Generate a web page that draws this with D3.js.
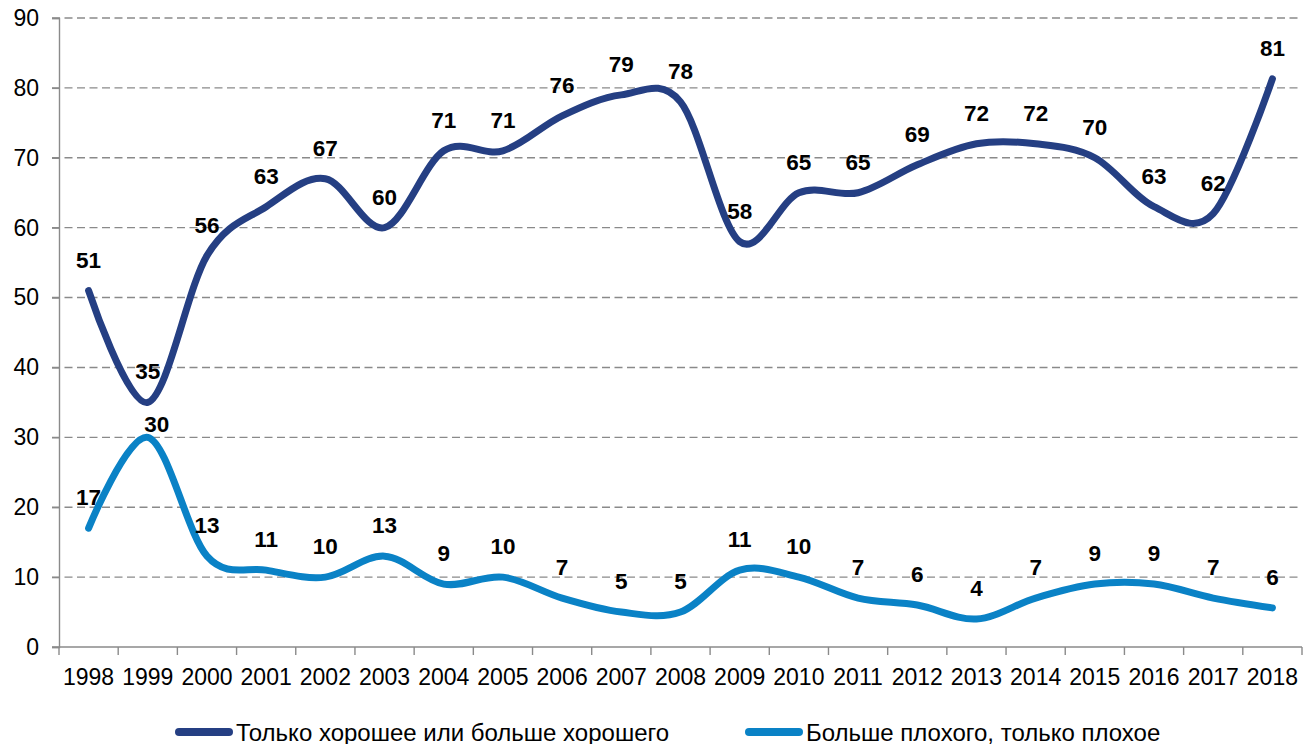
<!DOCTYPE html>
<html>
<head>
<meta charset="utf-8">
<script src="https://cdn.jsdelivr.net/npm/d3@7"></script>
<style>
  body { margin: 0; background: #fff; }
  text { font-family: "Liberation Sans", Arial, sans-serif; }
</style>
</head>
<body>
<div class="line-chart"></div>
<script>
var years = ["1998","1999","2000","2001","2002","2003","2004","2005","2006","2007","2008",
             "2009","2010","2011","2012","2013","2014","2015","2016","2017","2018"];
var goodValues = [51, 35, 56, 63, 67, 60, 71, 71, 76, 79, 78, 58, 65, 65, 69, 72, 72, 70, 63, 62, 81.3];
var badValues = [17, 30, 13, 11, 10, 13, 9, 10, 7, 5, 5, 11, 10, 7, 6, 4, 7, 9, 9, 7, 5.6];
var seriesNames = ["Только хорошее или больше хорошего", "Больше плохого, только плохое"];
var yTicks = [0, 10, 20, 30, 40, 50, 60, 70, 80, 90];

var width = 1305, height = 744;
var margin = {left: 59, right: 3, top: 18, bottom: 97};
var innerW = width - margin.left - margin.right;
var innerH = height - margin.top - margin.bottom;

var colors = ["#253F83", "#0A82C6"];
var gray = "#8a8a8a";

var svg = d3.select(".line-chart").append("svg")
  .attr("width", width).attr("height", height);

var g = svg.append("g").attr("transform", "translate(" + margin.left + "," + margin.top + ")");

//scales
var x = d3.scaleBand().domain(years).range([0, innerW]);
var y = d3.scaleLinear().domain([0, 90]).range([innerH, 0]);

//dashed grid lines
g.selectAll(".grid").data(yTicks.filter(function(d){ return d > 0; }))
  .enter().append("line")
  .attr("x1", -7).attr("x2", innerW)
  .attr("y1", function(d){ return y(d); }).attr("y2", function(d){ return y(d); })
  .attr("stroke", gray).attr("stroke-width", 1.4)
  .attr("stroke-dasharray", "8,4.5");

//y axis
var yAxis = d3.axisLeft(y).tickValues(yTicks).tickSize(7).tickPadding(13);
var yg = g.append("g").call(yAxis);
yg.select(".domain").attr("stroke", gray).attr("stroke-width", 1.4);
yg.selectAll(".tick line").attr("stroke", gray).attr("stroke-width", 1.4);
yg.selectAll(".tick text").attr("font-size", "23px").attr("fill", "#000");

//x axis: ticks on category boundaries
var xg = g.append("g").attr("transform", "translate(0," + innerH + ")");
xg.append("line").attr("x1", -7).attr("x2", innerW)
  .attr("stroke", gray).attr("stroke-width", 1.4);
var bounds = years.map(function(d){ return x(d); }).concat([innerW]);
xg.selectAll(".xt").data(bounds).enter().append("line")
  .attr("x1", function(d){ return d; }).attr("x2", function(d){ return d; })
  .attr("y1", 0).attr("y2", 8)
  .attr("stroke", gray).attr("stroke-width", 1.4);
xg.selectAll(".xl").data(years).enter().append("text")
  .attr("x", function(d){ return x(d) + x.bandwidth() / 2; })
  .attr("y", 37.5)
  .attr("text-anchor", "middle")
  .attr("font-size", "23px")
  .text(function(d){ return d; });

//lines
var line = d3.line()
  .x(function(d, i){ return x(years[i]) + x.bandwidth() / 2; })
  .y(function(d){ return y(d); })
  .curve(d3.curveCatmullRom.alpha(0));

[goodValues, badValues].forEach(function(vals, k) {
  g.append("path")
    .attr("fill", "none")
    .attr("stroke", colors[k])
    .attr("stroke-width", 7)
    .attr("stroke-linecap", "round")
    .attr("stroke-linejoin", "round")
    .attr("d", line(vals));
});

//data labels
var fmt = d3.format(".0f");
var nudge = {"1-1": [9, 18]};
[goodValues, badValues].forEach(function(vals, k) {
  g.selectAll(".lbl" + k).data(vals).enter().append("text")
    .attr("x", function(d, i){
      var n = nudge[k + "-" + i];
      return x(years[i]) + x.bandwidth() / 2 + (n ? n[0] : 0);
    })
    .attr("y", function(d, i){
      var n = nudge[k + "-" + i];
      return y(d) - 23 + (n ? n[1] : 0);
    })
    .attr("text-anchor", "middle")
    .attr("font-size", "22.5px")
    .attr("font-weight", "bold")
    .text(function(d){ return fmt(d); });
});

//legend
var legendX = [175, 745];
seriesNames.forEach(function(name, k) {
  var lg = svg.append("g").attr("transform", "translate(" + legendX[k] + ",732)");
  lg.append("line").attr("x1", 4).attr("x2", 54)
    .attr("stroke", colors[k]).attr("stroke-width", 8).attr("stroke-linecap", "round");
  lg.append("text").attr("x", 61).attr("y", 8.5)
    .attr("font-size", "24px")
    .text(name);
});
</script>
</body>
</html>
